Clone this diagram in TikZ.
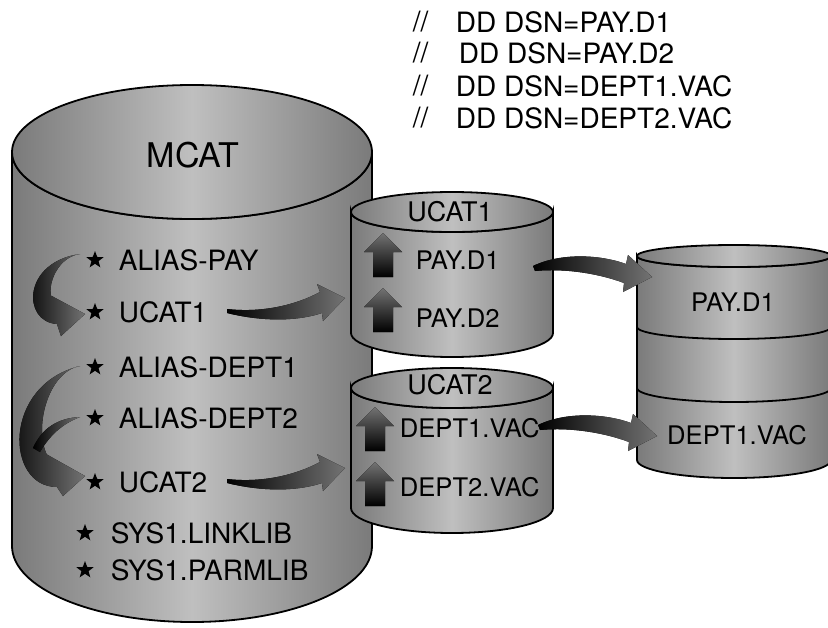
\documentclass[tikz,border=0pt]{standalone}
\usepackage{fontspec}
\setmainfont{TeX Gyre Heros}
\usetikzlibrary{shapes.geometric}

\tikzset{
  halftone/.style={left color=black!52, right color=black!52, middle color=black!25},
  fatarrow/.style={left color=black, right color=black!55},
  blockarrow/.style={top color=black!55, bottom color=black},
  entry/.style={anchor=west, inner sep=0pt, font=\fontsize{14}{16}\selectfont},
  dslabel/.style={inner sep=0pt, font=\fontsize{12.8}{15}\selectfont},
  bullet/.style={star, star points=5, star point ratio=2.4, fill=black, inner sep=0pt, minimum size=9pt},
}

\begin{document}
\begin{tikzpicture}[x=0.5pt, y=-0.5pt, line width=0.9pt]
  \useasboundingbox (0,0) rectangle (828,627);

  % JCL statements
  \node[entry] (slash1) at (412,22) {//};
  \node[entry] (dd1) at (455,22) {DD DSN=PAY.D1};
  \node[entry] (slash2) at (412,53) {//};
  \node[entry] (dd2) at (458,53) {DD DSN=PAY.D2};
  \node[entry] (slash3) at (412,86) {//};
  \node[entry] (dd3) at (455,86) {DD DSN=DEPT1.VAC};
  \node[entry] (slash4) at (412,118) {//};
  \node[entry] (dd4) at (455,118) {DD DSN=DEPT2.VAC};

  % master catalog
  \draw[halftone] (12,152) -- (12,546)
    arc[start angle=180, end angle=0, x radius=180, y radius=76] -- (372,152)
    arc[start angle=0, end angle=180, x radius=180, y radius=67] -- cycle;
  \draw[halftone] (192,152) ellipse[x radius=180, y radius=67];
  \node[inner sep=0pt, font=\fontsize{17}{20}\selectfont] (mcat) at (193,155) {MCAT};

  % user catalogs
  \draw[halftone] (351,212) -- (351,333)
    arc[start angle=180, end angle=0, x radius=101, y radius=24] -- (553,212)
    arc[start angle=0, end angle=180, x radius=101, y radius=20] -- cycle;
  \draw[halftone] (452,212) ellipse[x radius=101, y radius=20];
  \draw[halftone] (351,388) -- (351,508)
    arc[start angle=180, end angle=0, x radius=101, y radius=25] -- (553,388)
    arc[start angle=0, end angle=180, x radius=101, y radius=20] -- cycle;
  \draw[halftone] (452,388) ellipse[x radius=101, y radius=20];

  % volume
  \draw[halftone] (637,256) -- (637,460)
    arc[start angle=180, end angle=0, x radius=97, y radius=18] -- (831,256)
    arc[start angle=0, end angle=180, x radius=97, y radius=11] -- cycle;
  \draw[halftone] (734,256) ellipse[x radius=97, y radius=11];
  \draw (637,327) arc[start angle=180, end angle=0, x radius=97, y radius=12];
  \draw (637,388) arc[start angle=180, end angle=0, x radius=97, y radius=14];

  % alias arrows
  \fill[fatarrow] (80,254) .. controls (56,257) and (44,290) .. (54,304)
    -- (48,294) -- (85,314) -- (61,336) -- (57,324)
    .. controls (22,322) and (22,262) .. (80,254) -- cycle;
  \fill[fatarrow] (80,366) .. controls (45,372) and (30,440) .. (53,464)
    -- (46,454) -- (85,476) -- (63,496) -- (57,487)
    .. controls (5,487) and (2,385) .. (80,366) -- cycle;
  \fill[fatarrow] (80,417) .. controls (58,418) and (42,428) .. (33,448)
    -- (40,452) .. controls (50,435) and (62,424) .. (80,417) -- cycle;

  % catalog to catalog
  \foreach \s in {0,170}
    \fill[fatarrow, yshift=-\s*0.5pt] (227,309) .. controls (262,313) and (296,305) .. (320,292)
      -- (317,284) -- (345,298) -- (323,321) -- (322,313)
      .. controls (292,323) and (255,320) .. (227,313) -- cycle;

  % catalog to volume
  \fill[fatarrow] (533,266) .. controls (562,252) and (602,255) .. (626,264)
    -- (628,255) -- (652,277) -- (623,292) -- (624,283)
    .. controls (600,274) and (566,268) .. (535,271) -- cycle;
  \fill[fatarrow, shift={(5,159)}] (533,266) .. controls (562,252) and (602,255) .. (626,264)
    -- (628,255) -- (652,277) -- (623,292) -- (624,283)
    .. controls (600,274) and (566,268) .. (535,271) -- cycle;

  % entries in the user catalogs
  \foreach \x/\y in {383/233, 383/288, 375/407, 375/462}
    \fill[blockarrow] (\x,\y) -- ++(19,19) -- ++(-9,0) -- ++(0,25)
      -- ++(-20,0) -- ++(0,-25) -- ++(-9,0) -- cycle;

  % master catalog entries
  \node[bullet] (b1) at (95,260) {};
  \node[entry] (aliaspay) at (118,260) {ALIAS-PAY};
  \node[bullet] (b2) at (95,312) {};
  \node[entry] (ucatone) at (118,312) {UCAT1};
  \node[bullet] (b3) at (95,367) {};
  \node[entry] (aliasdeptone) at (118,367) {ALIAS-DEPT1};
  \node[bullet] (b4) at (95,418) {};
  \node[entry] (aliasdepttwo) at (118,418) {ALIAS-DEPT2};
  \node[bullet] (b5) at (95,482) {};
  \node[entry] (ucattwo) at (118,482) {UCAT2};
  \node[bullet] (b6) at (85,533) {};
  \node[entry] (linklib) at (110,533) {SYS1.LINKLIB};
  \node[bullet] (b7) at (85,570) {};
  \node[entry] (parmlib) at (110,570) {SYS1.PARMLIB};

  % user catalog contents
  \node[inner sep=0pt, font=\fontsize{13.5}{16}\selectfont] (ucatonehead) at (450,212) {UCAT1};
  \node[dslabel, anchor=west] (payd1) at (415,260) {PAY.D1};
  \node[dslabel, anchor=west] (payd2) at (415,318) {PAY.D2};
  \node[inner sep=0pt, font=\fontsize{13.5}{16}\selectfont] (ucattwohead) at (450,385) {UCAT2};
  \node[dslabel, anchor=west] (deptonevac) at (399,428) {DEPT1.VAC};
  \node[dslabel, anchor=west] (depttwovac) at (399,487) {DEPT2.VAC};

  % data sets on the volume
  \node[dslabel] (volpay) at (733,302) {PAY.D1};
  \node[dslabel] (voldept) at (737,435) {DEPT1.VAC};
\end{tikzpicture}
\end{document}
